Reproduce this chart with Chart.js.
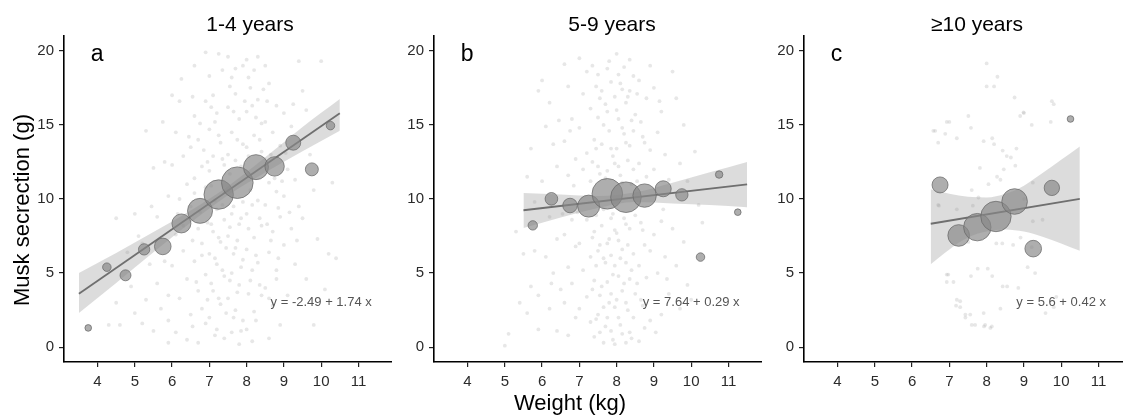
<!DOCTYPE html>
<html>
<head>
<meta charset="utf-8">
<script src="https://cdn.jsdelivr.net/npm/chart.js@4"></script>
<style>
html, body { margin: 0; padding: 0; background: #fff; overflow: hidden; width: 1123px; height: 417px; }
canvas { position: absolute; top: 0; }
</style>
</head>
<body>
<canvas id="pa" width="392" height="417" style="left:0px"></canvas>
<canvas id="pb" width="392" height="417" style="left:370px"></canvas>
<canvas id="pc" width="392" height="417" style="left:740px"></canvas>
<script>
var xTicks = [4, 5, 6, 7, 8, 9, 10, 11];
var yTicks = [0, 5, 10, 15, 20];

// panel a, 1-4 years
var aBinX = [3.75, 4.25, 4.75, 5.25, 5.75, 6.25, 6.75, 7.25, 7.75, 8.25, 8.75, 9.25, 9.75, 10.25];
var aBinY = [1.3, 5.4, 4.85, 6.6, 6.8, 8.35, 9.2, 10.3, 11.1, 12.15, 12.2, 13.8, 12.0, 14.95];
var aBinN = [11, 18, 30, 32, 69, 90, 156, 216, 250, 156, 94, 56, 42, 18];
var aFitX = [3.5, 10.5];
var aFitY = [3.6, 15.78];
var aBandX = [3.5, 4.5, 5.5, 6.5, 7.5, 8.5, 9.5, 10.5];
var aBandLo = [2.3, 4.33, 6.4, 8.41, 10.26, 11.79, 13.22, 14.6];
var aBandHi = [5.0, 6.35, 7.77, 9.23, 10.86, 12.81, 14.86, 16.75];
var aCloud = [
  [4.3,1.5],[4.6,1.5],[4.5,3.0],[4.9,4.1],[5.0,2.3],[5.2,1.6],[5.3,3.2],[5.5,1.1],[5.6,4.3],[5.4,5.6],
  [5.7,2.6],[5.9,1.8],[5.8,5.8],[5.1,7.5],[5.6,8.8],[5.9,10.2],[5.5,12.1],[5.3,14.6],[5.8,12.5],[4.5,8.7],
  [5.0,9.0],[5.9,3.5],[5.9,0.3],[5.2,7.0],[4.8,6.4],
  [6.0,17.0],[6.2,16.6],[6.1,14.5],[6.3,12.9],[6.0,12.3],[6.4,11.0],[6.2,10.0],[6.5,9.5],[6.1,7.6],[6.3,6.5],
  [6.0,5.5],[6.4,4.6],[6.2,3.3],[6.5,2.2],[6.1,1.0],[6.4,0.5],[6.6,15.6],[6.7,14.0],[6.8,12.2],[6.6,11.4],
  [6.9,10.8],[6.7,8.0],[6.8,7.0],[6.6,5.8],[6.9,4.9],[6.7,3.8],[6.8,2.6],[6.9,1.6],[6.7,0.3],[6.5,13.5],
  [6.9,16.6],[6.6,19.0],[6.9,19.9],
  [7.0,18.3],[7.1,17.0],[7.2,15.8],[7.0,14.7],[7.3,13.8],[7.1,12.9],[7.4,12.3],[7.0,11.9],[7.2,9.3],[7.4,8.6],
  [7.1,7.8],[7.3,7.1],[7.0,6.3],[7.2,5.6],[7.4,4.8],[7.1,3.8],[7.3,2.9],[7.0,2.0],[7.2,1.2],[7.4,0.6],
  [7.5,19.6],[7.6,18.2],[7.7,17.1],[7.5,16.2],[7.8,15.4],[7.6,14.5],[7.9,13.7],[7.5,13.0],[7.7,12.6],[7.9,9.8],
  [7.6,9.0],[7.8,8.3],[7.5,7.5],[7.7,6.7],[7.9,5.9],[7.6,5.0],[7.8,4.2],[7.5,3.3],[7.7,2.5],[7.9,1.8],
  [7.6,1.0],[7.8,0.2],[7.4,10.5],[7.9,19.0],
  [8.0,19.4],[8.2,18.7],[8.1,17.5],[8.3,16.7],[8.0,15.9],[8.4,15.1],[8.2,14.3],[8.0,13.5],[8.4,13.2],[8.1,10.6],
  [8.3,9.9],[8.0,9.0],[8.4,8.2],[8.2,7.4],[8.0,6.6],[8.3,5.7],[8.1,4.5],[8.4,3.5],[8.2,2.4],[8.0,1.2],
  [8.5,19.0],[8.6,17.8],[8.8,16.3],[8.5,15.2],[8.7,14.5],[8.9,13.6],[8.6,11.1],[8.8,10.5],[8.5,9.6],[8.9,8.8],
  [8.7,7.8],[8.6,6.4],[8.8,5.2],[8.5,4.0],[8.7,2.8],[8.9,1.5],[8.6,0.6],
  [9.0,15.8],[9.2,14.9],[9.1,12.0],[9.3,11.3],[9.0,10.2],[9.4,9.5],[9.2,8.0],[9.0,6.9],[9.3,5.6],[9.1,3.5],
  [9.5,17.3],[9.6,16.0],[9.7,13.0],[9.8,10.6],[9.5,8.7],[9.9,7.3],[9.6,4.6],[9.8,1.5],[10.0,19.3],[10.3,11.1],
  [10.2,6.3],[10.4,6.0],[10.1,3.9],[9.4,19.3],
  [6.55,16.9],[6.75,15.1],[6.85,13.3],[6.95,12.5],[6.6,10.4],[6.75,9.1],[6.95,8.4],[6.55,7.2],[6.8,6.2],[6.65,4.4],
  [6.95,3.2],[6.55,1.4],[7.05,16.2],[7.15,15.2],[7.25,14.3],[7.35,12.7],[7.05,10.9],[7.15,9.9],[7.35,9.6],[7.05,8.3],
  [7.25,7.4],[7.45,6.7],[7.15,6.0],[7.35,5.2],[7.05,4.3],[7.25,3.3],[7.45,2.3],[7.15,0.8],[7.35,18.7],[7.25,19.8],
  [7.55,17.6],[7.65,15.9],[7.75,14.0],[7.85,12.2],[7.55,11.7],[7.65,9.5],[7.85,8.7],[7.55,8.1],[7.75,7.2],[7.65,6.3],
  [7.85,5.4],[7.55,4.5],[7.75,3.7],[7.65,2.0],[7.85,1.1],[7.95,16.6],[7.7,18.8],[8.05,18.2],[8.15,16.3],[8.25,15.5],
  [8.35,14.0],[8.05,12.9],[8.15,9.6],[8.35,8.7],[8.05,8.0],[8.25,6.2],[8.15,5.2],[8.35,4.2],[8.05,3.6],[8.25,1.8],
  [8.15,0.4],[8.45,17.4],[8.3,19.6],[8.55,16.6],[8.65,13.0],[8.75,11.4],[8.85,9.4],[8.55,8.3],[8.65,7.2],[8.85,6.0],
  [8.6,3.3],[8.8,4.6],[8.95,11.2],[9.05,13.1],[9.15,9.1],[9.25,16.4],[9.35,7.2],[6.3,8.2],[6.15,9.0],[6.45,14.2],
  [6.25,18.1],[5.75,15.2],[5.45,9.5]
];

// panel b, 5-9 years
var bBinX = [5.75, 6.25, 6.75, 7.25, 7.75, 8.25, 8.75, 9.25, 9.75, 10.25, 10.75, 11.25];
var bBinY = [8.22, 10.01, 9.56, 9.52, 10.35, 10.12, 10.23, 10.69, 10.28, 6.08, 11.65, 9.11];
var bBinN = [22, 40, 53, 121, 234, 234, 137, 64, 38, 18, 14, 11];
var bFitX = [5.5, 11.5];
var bFitY = [9.24, 10.98];
var bBandX = [5.5, 6.5, 7.5, 8.5, 9.5, 10.5, 11.5];
var bBandLo = [8.05, 8.75, 9.4, 9.8, 9.7, 9.6, 9.45];
var bBandHi = [10.4, 10.3, 10.2, 10.45, 11.1, 11.8, 12.5];
var bCloud = [
  [5.0,0.1],[5.1,0.9],[5.4,3.0],[5.6,2.3],[5.7,4.1],[5.5,6.3],[5.8,6.5],[5.9,1.2],[5.6,11.5],[5.7,13.4],
  [5.9,17.3],[5.8,9.8],[5.3,7.8],[5.9,3.5],
  [6.0,18.0],[6.2,16.5],[6.1,14.9],[6.3,13.7],[6.4,12.2],[6.0,11.2],[6.2,8.8],[6.4,7.3],[6.1,6.1],[6.3,5.0],
  [6.5,3.9],[6.2,2.6],[6.4,1.1],[6.6,19.1],[6.7,17.6],[6.8,15.4],[6.6,13.9],[6.9,12.7],[6.7,11.6],[6.8,8.6],
  [6.6,7.6],[6.9,6.8],[6.7,5.4],[6.8,4.3],[6.6,3.0],[6.9,2.0],[6.7,0.8],
  [7.0,19.5],[7.2,18.6],[7.1,17.1],[7.3,16.1],[7.0,14.8],[7.4,14.0],[7.2,13.1],[7.1,12.0],[7.3,11.2],[7.2,8.6],
  [7.4,7.8],[7.0,7.0],[7.3,6.1],[7.1,5.2],[7.4,4.5],[7.2,3.4],[7.0,2.6],[7.3,1.7],[7.4,0.7],[7.5,18.4],
  [7.6,17.3],[7.7,16.4],[7.5,15.5],[7.8,14.6],[7.6,13.7],[7.9,12.9],[7.5,12.2],[7.7,11.4],[7.9,9.0],[7.6,8.2],
  [7.8,7.3],[7.5,6.5],[7.7,5.7],[7.9,4.9],[7.6,4.1],[7.8,3.0],[7.5,2.2],[7.7,1.4],[7.9,0.5],[7.8,19.3],
  [8.0,19.8],[8.2,18.9],[8.1,17.8],[8.3,16.9],[8.0,16.0],[8.4,15.3],[8.2,14.4],[8.0,13.4],[8.3,12.6],[8.1,11.6],
  [8.4,11.0],[8.2,8.7],[8.0,7.7],[8.3,6.9],[8.1,6.0],[8.4,5.2],[8.2,4.3],[8.0,3.2],[8.3,2.5],[8.1,1.5],
  [8.4,0.6],[8.6,18.0],[8.8,16.8],[8.5,15.7],[8.7,14.2],[8.9,13.3],[8.6,12.4],[8.8,11.5],[8.5,8.9],[8.7,7.9],
  [8.9,6.5],[8.6,5.5],[8.8,4.7],[8.5,3.6],[8.7,2.8],[8.9,1.8],[8.6,0.4],[8.9,19.0],
  [9.0,17.5],[9.2,15.9],[9.1,14.5],[9.3,13.0],[9.0,12.0],[9.4,11.3],[9.2,8.5],[9.0,7.6],[9.3,6.1],[9.1,5.0],
  [9.4,3.6],[9.2,2.2],[9.5,18.6],[9.6,16.8],[9.8,15.0],[9.7,12.4],[9.9,11.2],[9.5,8.0],[9.8,7.1],[9.6,5.5],
  [9.9,4.2],[9.7,2.6],[10.1,13.2],[10.3,8.4],[10.0,3.2],[10.2,9.6],
  [7.35,19.0],[7.45,17.6],[7.55,16.8],[7.65,15.0],[7.45,13.4],[7.35,12.5],[7.55,11.7],[7.65,9.3],[7.45,8.9],[7.35,7.4],
  [7.55,6.9],[7.65,6.0],[7.45,5.5],[7.35,3.9],[7.55,3.5],[7.65,2.7],[7.45,1.9],[7.55,1.0],[7.65,0.3],[7.75,18.8],
  [7.85,17.9],[7.95,16.9],[7.75,15.9],[7.85,13.4],[7.95,12.4],[7.75,11.9],[7.85,8.7],[7.95,7.9],[7.75,7.0],[7.85,6.2],
  [7.95,5.5],[7.75,4.4],[7.85,3.6],[7.95,2.7],[7.75,2.0],[7.85,1.1],[7.95,0.2],[8.05,18.4],[8.15,17.4],[8.25,16.5],
  [8.05,15.4],[8.15,14.8],[8.25,13.8],[8.05,12.2],[8.15,11.1],[8.25,8.3],[8.05,7.2],[8.15,6.6],[8.25,5.7],[8.05,4.8],
  [8.15,3.8],[8.25,3.0],[8.05,2.0],[8.15,0.9],[8.25,0.3],[8.35,19.4],[8.45,18.3],[8.35,17.3],[8.45,14.6],[8.35,13.6],
  [8.45,12.0],[8.35,8.0],[8.45,6.3],[8.35,4.6],[8.45,2.0],[8.35,1.0],[8.55,17.1],[8.65,15.2],[8.75,13.8],[8.55,11.2],
  [8.65,8.4],[8.75,6.9],[8.55,4.3],[8.65,3.2],[8.75,1.3],[6.75,14.6],[6.85,10.9],[6.95,9.1],[6.55,9.0],[6.45,15.3],
  [6.25,4.3],[9.15,16.6],[9.25,9.3],[9.35,4.6],[9.05,1.0]
];

// panel c, >=10 years
var cBinX = [6.75, 7.25, 7.75, 8.25, 8.75, 9.25, 9.75, 10.25];
var cBinY = [10.95, 7.54, 8.1, 8.82, 9.83, 6.65, 10.75, 15.4];
var cBinN = [64, 117, 188, 231, 164, 69, 59, 11];
var cFitX = [6.5, 10.5];
var cFitY = [8.33, 10.01];
var cBandX = [6.5, 7.0, 7.5, 8.0, 8.5, 9.0, 9.5, 10.0, 10.5];
var cBandLo = [5.6, 6.6, 7.4, 7.8, 7.95, 7.8, 7.45, 7.0, 6.5];
var cBandHi = [10.65, 10.35, 10.15, 10.1, 10.35, 10.9, 11.75, 12.65, 13.55];
var cCloud = [
  [8.0,19.15],[8.29,18.25],[8.2,17.6],[8.0,17.6],[8.75,16.85],[8.99,15.85],[8.9,15.6],[7.51,15.6],[7.0,15.2],[6.62,14.6],
  [6.89,14.4],[7.58,14.8],[7.2,14.1],[7.92,13.9],[8.15,14.1],[8.2,13.7],[8.43,13.27],[8.54,12.9],[8.65,12.8],[8.8,13.4],
  [8.77,12.25],[8.46,12.0],[7.82,12.1],[8.28,11.5],[7.6,10.6],[8.05,11.0],[7.78,10.1],[7.63,9.55],[6.72,9.55],[7.2,9.3],
  [8.37,11.3],[8.26,7.0],[8.42,7.0],[8.71,6.9],[8.91,7.4],[7.51,7.1],[6.97,4.9],[7.58,4.8],[7.76,5.3],[8.03,5.3],
  [8.15,4.8],[8.43,4.1],[8.55,4.1],[8.85,4.0],[7.11,4.4],[7.29,3.1],[7.29,2.7],[7.43,2.2],[7.56,2.2],[7.92,2.3],
  [8.37,2.6],[7.69,1.5],[7.96,1.5],[8.14,1.4],[9.21,6.75],[9.75,16.6],[9.8,16.4],[9.21,15.0],[9.72,15.2],[9.0,15.8],
  [9.24,11.1],[9.0,10.0],[9.24,8.5],[9.5,8.6],[9.1,5.4],[9.3,5.0],[9.87,3.4],[9.8,2.7],[9.58,2.3],[6.57,14.6],
  [6.7,13.8],[6.93,15.2],[6.7,9.6],[6.93,4.9],[6.93,4.4],[7.2,3.2],[7.18,2.8],[7.43,2.0],[7.6,1.5],[7.93,1.4],[8.1,1.3]
];

var FONT = '"Liberation Sans", Arial, Helvetica, sans-serif';
Chart.defaults.font.family = FONT;

var panelText = {
  id: 'panelText',
  afterDraw: function (chart) {
    var o = chart.options.plugins.panelText;
    var ctx = chart.ctx, xs = chart.scales.x, ys = chart.scales.y;
    ctx.save();
    ctx.fillStyle = '#000';
    ctx.textAlign = 'center';
    ctx.textBaseline = 'alphabetic';
    ctx.font = '21px ' + FONT;
    ctx.fillText(o.title, o.titleX, 31);
    ctx.textAlign = 'left';
    ctx.font = '23px ' + FONT;
    ctx.fillText(o.letter, xs.getPixelForValue(3.82), ys.getPixelForValue(19.33));
    ctx.fillStyle = '#555';
    ctx.font = '13px ' + FONT;
    ctx.textAlign = 'center';
    ctx.textBaseline = 'middle';
    ctx.fillText(o.eq, xs.getPixelForValue(10), ys.getPixelForValue(3));
    ctx.fillStyle = '#000';
    ctx.font = '22px ' + FONT;
    if (o.yTitle) {
      ctx.save();
      ctx.translate(23, 210);
      ctx.rotate(-Math.PI / 2);
      ctx.fillText(o.yTitle, 0, 0);
      ctx.restore();
    }
    if (o.xTitle) {
      ctx.fillText(o.xTitle, 200, 404);
    }
    ctx.restore();
  }
};

function toPts(xs, ys) {
  return xs.map(function (x, i) { return { x: x, y: ys[i] }; });
}

function makePanel(id, p) {
  return new Chart(document.getElementById(id), {
    type: 'scatter',
    data: {
      datasets: [
        {
          data: p.cloud.map(function (d) { return { x: d[0], y: d[1] }; }),
          pointRadius: 1.9,
          backgroundColor: 'rgba(160,160,160,0.25)',
          borderWidth: 0,
          order: 5
        },
        {
          type: 'line',
          data: toPts(p.bandX, p.bandHi),
          borderWidth: 0,
          pointRadius: 0,
          cubicInterpolationMode: 'monotone',
          backgroundColor: 'rgba(150,150,150,0.33)',
          fill: '+1',
          order: 4
        },
        {
          type: 'line',
          data: toPts(p.bandX, p.bandLo),
          borderWidth: 0,
          pointRadius: 0,
          cubicInterpolationMode: 'monotone',
          fill: false,
          order: 4
        },
        {
          type: 'line',
          data: toPts(p.fitX, p.fitY),
          borderColor: '#6f6f6f',
          borderWidth: 1.8,
          pointRadius: 0,
          fill: false,
          order: 2
        },
        {
          type: 'bubble',
          data: p.binX.map(function (x, i) { return { x: x, y: p.binY[i], r: Math.sqrt(p.binN[i]) }; }),
          backgroundColor: 'rgba(135,135,135,0.68)',
          borderColor: 'rgba(105,105,105,0.75)',
          borderWidth: 1,
          order: 1
        }
      ]
    },
    options: {
      responsive: false,
      animation: false,
      events: [],
      layout: { autoPadding: false, padding: { top: 36, right: 0, left: 0, bottom: 0 } },
      plugins: {
        legend: { display: false },
        tooltip: { enabled: false },
        panelText: p.text
      },
      scales: {
        x: {
          type: 'linear',
          min: 3.1,
          max: 11.9,
          afterBuildTicks: function (s) { s.ticks = xTicks.map(function (v) { return { value: v }; }); },
          afterFit: function (s) { s.height = 55; s.paddingLeft = 0; s.paddingRight = 0; },
          ticks: { color: '#2b2b2b', font: { size: 15 }, padding: 6, autoSkip: false, maxRotation: 0 },
          grid: { drawOnChartArea: false, tickLength: 5, color: '#222', lineWidth: 1.2 },
          border: { color: '#000', width: 1.6 }
        },
        y: {
          type: 'linear',
          min: -1,
          max: 21,
          afterBuildTicks: function (s) { s.ticks = yTicks.map(function (v) { return { value: v }; }); },
          afterFit: function (s) { s.width = 64; s.paddingTop = 0; s.paddingBottom = 0; },
          ticks: { color: '#2b2b2b', font: { size: 15 }, padding: 5 },
          grid: { drawOnChartArea: false, tickLength: 5, color: '#222', lineWidth: 1.2 },
          border: { color: '#000', width: 1.6 }
        }
      }
    },
    plugins: [panelText]
  });
}

makePanel('pa', {
  cloud: aCloud, bandX: aBandX, bandLo: aBandLo, bandHi: aBandHi,
  fitX: aFitX, fitY: aFitY, binX: aBinX, binY: aBinY, binN: aBinN,
  text: { title: '1-4 years', titleX: 250, letter: 'a', eq: 'y = -2.49 + 1.74 x', yTitle: 'Musk secrection (g)' }
});
makePanel('pb', {
  cloud: bCloud, bandX: bBandX, bandLo: bBandLo, bandHi: bBandHi,
  fitX: bFitX, fitY: bFitY, binX: bBinX, binY: bBinY, binN: bBinN,
  text: { title: '5-9 years', titleX: 242, letter: 'b', eq: 'y = 7.64 + 0.29 x', xTitle: 'Weight (kg)' }
});
makePanel('pc', {
  cloud: cCloud, bandX: cBandX, bandLo: cBandLo, bandHi: cBandHi,
  fitX: cFitX, fitY: cFitY, binX: cBinX, binY: cBinY, binN: cBinN,
  text: { title: '≥10 years', titleX: 237, letter: 'c', eq: 'y = 5.6 + 0.42 x' }
});
</script>
</body>
</html>
